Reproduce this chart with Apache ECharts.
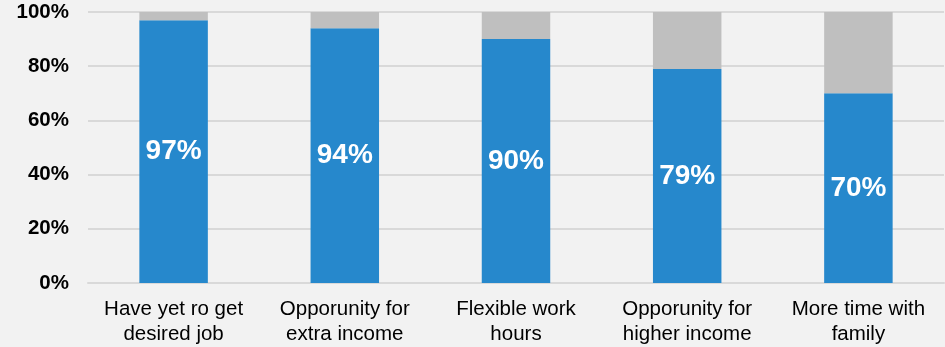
<!DOCTYPE html>
<html>
<head>
<meta charset="utf-8">
<script src="https://cdn.jsdelivr.net/npm/echarts@6/dist/echarts.min.js"></script>
<style>
  html, body { margin: 0; padding: 0; background: #f2f2f2; }
  #chart { width: 945px; height: 347px; }
</style>
</head>
<body>
<div id="chart"></div>
<script>
// Reasons cited, share of respondents (%)
const categories = [
  'Have yet ro get\ndesired job',
  'Opporunity for\nextra income',
  'Flexible work\nhours',
  'Opporunity for\nhigher income',
  'More time with\nfamily'
];
const yesValues = [97, 94, 90, 79, 70];
const restValues = yesValues.map(v => 100 - v);

const chart = echarts.init(document.getElementById('chart'), null, { renderer: 'canvas' });
const font = 'Liberation Sans, Arial, sans-serif';

chart.setOption({
  backgroundColor: '#f2f2f2',
  animation: false,
  grid: { left: 88, right: 1, top: 12, bottom: 64, containLabel: false },
  xAxis: {
    type: 'category',
    data: categories,
    axisLine: { show: true, lineStyle: { color: '#d9d9d9', width: 2 } },
    axisTick: { show: false },
    axisLabel: {
      interval: 0, hideOverlap: false,
      color: '#000', fontFamily: font, fontSize: 20.5, lineHeight: 25, margin: 14
    }
  },
  yAxis: {
    type: 'value',
    min: 0, max: 100, interval: 20,
    axisLine: { show: false },
    axisTick: { show: false },
    splitLine: { lineStyle: { color: '#d9d9d9', width: 2 } },
    axisLabel: {
      formatter: '{value}%', color: '#000', fontFamily: font,
      fontSize: 20.5, fontWeight: 'bold', margin: 19
    }
  },
  series: [
    {
      type: 'bar', stack: 'total', data: yesValues, barWidth: '40%',
      itemStyle: { color: '#2688cc' },
      label: {
        show: true, position: 'inside', formatter: '{c}%',
        color: '#fff', fontFamily: font, fontSize: 28, fontWeight: 'bold'
      }
    },
    {
      type: 'bar', stack: 'total', data: restValues, barWidth: '40%',
      itemStyle: { color: '#bfbfbf' }
    }
  ]
});
</script>
</body>
</html>
